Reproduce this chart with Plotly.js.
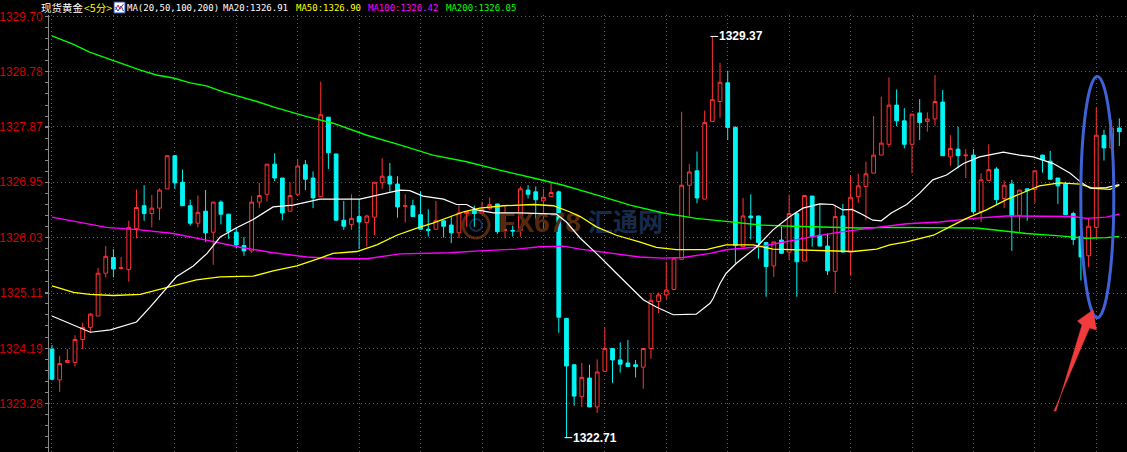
<!DOCTYPE html>
<html>
<head>
<meta charset="utf-8">
<script src="https://cdn.plot.ly/plotly-3.0.1.min.js"></script>
<style>
  html, body { margin: 0; padding: 0; background: #000; }
  #chart { width: 1127px; height: 452px; }
</style>
</head>
<body>
<div id="chart"></div>
<script>
// 现货黄金 5-minute bars (open / high / low / close)
const open = [
  1324.18,1323.67,1323.96,1323.96,1324.34,1324.54,1324.73,1325.44,1325.70,1325.52,
  1325.50,1326.18,1326.56,1326.43,1326.52,1326.84,1327.39,1326.95,1326.56,1326.27,
  1326.47,1326.12,1326.62,1326.42,1326.12,1325.90,1325.81,1326.62,1326.75,1327.25,
  1327.02,1326.47,1326.75,1327.24,1327.02,1326.71,1328.03,1327.42,1326.32,1326.25,
  1326.38,1326.28,1326.37,1326.94,1327.05,1326.92,1326.55,1326.56,1326.41,1326.17,
  1326.17,1326.31,1326.24,1326.11,1326.43,1326.48,1326.44,1326.51,1326.59,1326.15,
  1326.15,1326.15,1326.82,1326.79,1326.64,1326.71,1326.79,1324.69,1323.92,1323.39,
  1323.70,1323.22,1323.81,1324.19,1324.00,1323.95,1323.92,1323.88,1324.19,1324.97,
  1325.08,1325.17,1325.67,1326.90,1327.14,1326.67,1327.96,1328.29,1328.60,1327.86,
  1325.88,1326.39,1326.39,1325.95,1325.56,1325.99,1325.79,1326.43,1325.64,1326.72,
  1326.07,1325.89,1325.47,1326.39,1325.79,1326.71,1326.88,1327.10,1327.40,1327.58,
  1328.23,1327.97,1327.58,1328.10,1327.96,1328.00,1328.28,1327.37,1327.50,1327.39,
  1327.40,1326.46,1326.98,1327.17,1326.68,1326.92,1326.40,1326.84,1326.83,1327.40,
  1327.30,1327.02,1326.92,1326.43,1326.05,1325.73,1326.20,1327.73,1327.52,1327.85
];
const high = [
  1324.25,1324.07,1324.18,1324.41,1324.62,1324.78,1325.53,1325.89,1325.84,1325.71,
  1326.31,1326.83,1326.90,1326.74,1326.85,1327.40,1327.40,1327.16,1326.66,1326.73,
  1326.82,1326.62,1326.65,1326.42,1326.20,1326.04,1326.72,1326.94,1327.25,1327.43,
  1327.02,1326.95,1327.34,1327.32,1327.13,1328.62,1328.03,1327.42,1326.64,1326.75,
  1326.67,1326.41,1326.95,1327.35,1327.27,1327.05,1326.75,1326.66,1326.80,1326.50,
  1326.64,1326.32,1326.38,1326.57,1326.46,1326.56,1326.63,1326.70,1326.59,1326.57,
  1326.23,1326.88,1326.90,1326.88,1326.84,1326.94,1326.81,1324.69,1323.92,1323.95,
  1323.92,1324.01,1324.53,1324.19,1324.29,1324.33,1324.00,1324.19,1325.11,1325.12,
  1325.63,1325.69,1328.12,1327.25,1327.46,1328.14,1329.37,1328.93,1328.80,1327.88,
  1326.69,1326.75,1326.39,1325.95,1325.96,1326.21,1326.74,1326.46,1326.73,1326.72,
  1326.58,1326.10,1326.57,1326.59,1327.07,1327.09,1327.29,1328.05,1328.37,1328.69,
  1328.49,1328.18,1328.08,1328.33,1328.11,1328.73,1328.48,1327.73,1327.87,1327.50,
  1327.50,1327.10,1327.58,1327.20,1326.98,1326.99,1326.82,1326.84,1327.14,1327.41,
  1327.47,1327.02,1326.96,1326.46,1326.07,1326.35,1328.19,1327.82,1327.98,1328.01
];
const low = [
  1323.66,1323.47,1323.95,1323.89,1324.18,1324.45,1324.73,1325.37,1325.37,1325.50,
  1325.30,1326.02,1326.31,1326.20,1326.32,1326.84,1326.84,1326.56,1326.23,1326.20,
  1325.96,1325.58,1326.25,1326.01,1325.85,1325.73,1325.78,1326.52,1326.63,1326.97,
  1326.32,1326.47,1326.75,1326.82,1326.52,1326.71,1327.17,1326.32,1326.16,1326.16,
  1325.84,1325.88,1326.07,1326.84,1326.79,1326.36,1326.28,1326.38,1326.17,1326.05,
  1326.17,1326.03,1325.94,1326.02,1326.21,1326.21,1326.44,1326.49,1326.09,1326.02,
  1326.05,1326.05,1326.68,1326.33,1326.16,1326.71,1324.45,1322.71,1323.24,1323.22,
  1323.22,1323.12,1323.81,1323.62,1323.79,1323.89,1323.71,1323.52,1324.02,1324.78,
  1325.01,1325.17,1325.67,1326.38,1326.60,1326.67,1327.96,1328.02,1327.65,1325.60,
  1325.88,1326.00,1325.68,1325.05,1325.38,1325.77,1325.66,1325.05,1325.64,1325.88,
  1325.89,1325.41,1325.11,1325.79,1325.41,1326.61,1326.32,1327.10,1327.40,1327.53,
  1327.88,1327.51,1327.10,1327.65,1327.79,1327.89,1327.39,1327.22,1327.18,1327.02,
  1326.42,1326.29,1326.98,1326.57,1326.52,1325.81,1326.13,1326.31,1326.61,1327.11,
  1327.00,1326.59,1326.41,1325.91,1325.32,1325.54,1326.02,1327.31,1327.52,1327.55
];
const close = [
  1323.68,1323.94,1323.99,1324.34,1324.54,1324.76,1325.44,1325.72,1325.51,1325.53,
  1326.20,1326.53,1326.43,1326.52,1326.82,1327.39,1326.94,1326.56,1326.27,1326.45,
  1326.11,1326.62,1326.42,1326.13,1325.91,1325.81,1326.62,1326.73,1327.25,1327.02,
  1326.44,1326.73,1327.22,1327.00,1326.69,1328.07,1327.44,1326.32,1326.22,1326.35,
  1326.29,1326.39,1326.95,1327.05,1326.92,1326.54,1326.56,1326.38,1326.17,1326.15,
  1326.31,1326.22,1326.11,1326.44,1326.46,1326.43,1326.50,1326.58,1326.13,1326.16,
  1326.14,1326.84,1326.75,1326.66,1326.70,1326.78,1324.71,1323.90,1323.40,1323.71,
  1323.22,1323.80,1324.19,1324.00,1323.93,1323.89,1323.89,1324.19,1324.99,1325.08,
  1325.16,1325.69,1326.90,1327.12,1326.69,1327.94,1328.32,1328.61,1327.86,1325.90,
  1326.39,1326.36,1325.95,1325.55,1325.96,1325.77,1326.43,1325.63,1326.73,1326.05,
  1325.89,1325.48,1326.38,1325.79,1326.70,1326.89,1327.09,1327.40,1327.60,1328.23,
  1327.97,1327.58,1328.08,1327.94,1328.00,1328.29,1327.39,1327.51,1327.39,1327.40,
  1326.46,1326.99,1327.16,1326.66,1326.90,1326.39,1326.82,1326.81,1327.14,1327.32,
  1327.00,1326.89,1326.41,1326.00,1325.71,1326.22,1327.73,1327.52,1327.85,1327.79
];
const barIdx = open.map((_, i) => i);

// Moving averages as plotted (bar position, value)
const ma20X = [0,5.0,7.6,11.0,12.8,14.5,16.2,18.4,20.2,21.9,24.1,26.2,28.8,31.4,34.9,40.1,43.6,45.3,46.6,48.3,51.0,52.7,54.0,55.3,57.5,60.9,65.7,67.0,68.8,70.9,73.5,75.3,77.0,78.7,80.9,83.9,85.7,86.1,87.0,87.8,89.1,91.8,93.9,96.1,97.8,100.0,101.7,103.0,104.2,105.6,106.9,108.0,109.3,111.3,113.0,114.7,116.5,118.7,120.8,123.9,126.0,127.8,130.4,132.6,133.9,135.2,137.3,139.0];
const ma20  = [1324.73,1324.46,1324.50,1324.63,1324.88,1325.13,1325.38,1325.56,1325.77,1326.04,1326.20,1326.33,1326.54,1326.57,1326.67,1326.67,1326.77,1326.82,1326.81,1326.72,1326.67,1326.58,1326.58,1326.49,1326.44,1326.44,1326.42,1326.29,1326.02,1325.77,1325.44,1325.22,1325.00,1324.88,1324.75,1324.76,1324.94,1325.02,1325.27,1325.44,1325.60,1325.88,1326.16,1326.38,1326.52,1326.59,1326.58,1326.49,1326.50,1326.41,1326.32,1326.31,1326.44,1326.58,1326.77,1326.99,1327.07,1327.26,1327.37,1327.45,1327.40,1327.37,1327.26,1327.10,1326.96,1326.85,1326.86,1326.91];

const ma50X = [0,2.8,4.9,8.0,11.5,13.6,15.8,18.8,21.9,26.2,28.8,31.9,34.9,36.6,39.7,42.3,44.9,47.5,49.6,51.8,53.6,55.7,58.8,62.7,65.3,67.4,68.8,70.9,73.5,76.5,78.7,81.3,85.2,87.8,91.3,93.9,97.4,100.9,104.3,107.4,109.1,111.3,114.8,116.9,119.1,121.7,124.3,126.9,128.6,131.2,133.9,135.6,137.8,139.0];
const ma50  = [1325.23,1325.12,1325.09,1325.07,1325.09,1325.16,1325.24,1325.33,1325.38,1325.39,1325.48,1325.56,1325.69,1325.77,1325.80,1325.91,1326.07,1326.19,1326.27,1326.38,1326.46,1326.52,1326.56,1326.58,1326.56,1326.46,1326.38,1326.21,1326.07,1325.96,1325.87,1325.83,1325.83,1325.91,1325.91,1325.84,1325.83,1325.81,1325.80,1325.84,1325.91,1325.96,1326.07,1326.21,1326.35,1326.49,1326.66,1326.80,1326.89,1326.94,1326.92,1326.85,1326.83,1326.90];

const ma100X = [0,3.6,7.1,11.5,15.8,20.1,24.5,28.8,33.2,37.5,41.0,45.3,51.8,55.7,60.5,63.5,66.6,68.8,72.2,76.5,79.6,82.2,85.7,87.8,92.2,96.5,99.6,103.0,106.9,111.3,115.6,120.0,124.3,128.6,133.0,134.7,137.3,139.0];
const ma100  = [1326.37,1326.28,1326.20,1326.16,1326.10,1325.99,1325.87,1325.78,1325.71,1325.68,1325.68,1325.76,1325.78,1325.81,1325.84,1325.88,1325.89,1325.84,1325.78,1325.71,1325.69,1325.70,1325.77,1325.83,1325.88,1325.99,1326.06,1326.13,1326.19,1326.26,1326.29,1326.35,1326.39,1326.39,1326.38,1326.35,1326.37,1326.42];

const ma200X = [0,2.8,4.9,7.1,9.3,11.5,13.6,15.8,18.0,20.1,22.3,24.5,26.7,28.8,31.0,33.2,36.6,41.0,45.3,49.6,54.0,58.3,62.7,66.6,70.9,75.3,79.6,83.9,87.8,92.2,96.5,100.9,105.2,109.1,115.6,120.4,123.4,126.9,131.2,134.7,137.3,139.0];
const ma200  = [1329.38,1329.24,1329.11,1329.01,1328.91,1328.81,1328.73,1328.68,1328.60,1328.55,1328.45,1328.37,1328.29,1328.20,1328.12,1328.04,1327.93,1327.73,1327.57,1327.40,1327.29,1327.15,1327.02,1326.90,1326.74,1326.57,1326.44,1326.35,1326.30,1326.24,1326.22,1326.20,1326.19,1326.20,1326.20,1326.19,1326.15,1326.10,1326.06,1326.02,1326.03,1326.05];

// Price scale
const priceTicks = [1323.28,1324.19,1325.11,1326.03,1326.95,1327.87,1328.78,1329.70];
const priceTickText = ['1323.28','1324.19','1325.11','1326.03','1326.95','1327.87','1328.78','1329.70'];
const timeGrid = [0,8,16,24,32,40,48,56,64,72,80,88,96,104,112,120,128,136];

const UP = '#ff3232', DOWN = '#00f6f6';
const GRID = '#5e5e5e';
const SANS = 'Liberation Sans, Arial, sans-serif';
const MONO = 'DejaVu Sans Mono, Liberation Mono, monospace';
const CJK = 'Noto Sans CJK SC, sans-serif';

// plot box in page pixels, used for overlay placement
const L = 49, T = 15, W = 1127 - 49, H = 452 - 15;
const fx = p => (p - L) / W;
const fy = p => (T + H - p) / H;

const last = a => a[a.length - 1];

const traces = [
  // watermark sits beneath the bars
  { type: 'scatter', mode: 'text', x: [63.5], y: [1326.24], text: ['FX678'],
    textfont: { family: SANS, size: 28, color: '#55290e', weight: 'bold' },
    hoverinfo: 'skip', showlegend: false },
  { type: 'scatter', mode: 'text', x: [74.7], y: [1326.24], text: ['汇通网'],
    textfont: { family: CJK, size: 25, color: '#172a4c', weight: 'bold' },
    hoverinfo: 'skip', showlegend: false },
  {
    type: 'candlestick', x: barIdx, open: open, high: high, low: low, close: close,
    increasing: { line: { color: UP, width: 1 }, fillcolor: '#000000' },
    decreasing: { line: { color: DOWN, width: 1 }, fillcolor: DOWN },
    whiskerwidth: 0, hoverinfo: 'skip', showlegend: false
  },
  { type: 'scatter', mode: 'lines', x: ma200X, y: ma200, line: { color: '#00ff00', width: 1.4 }, hoverinfo: 'skip', showlegend: false },
  { type: 'scatter', mode: 'lines', x: ma100X, y: ma100, line: { color: '#ff00ff', width: 1.4 }, hoverinfo: 'skip', showlegend: false },
  { type: 'scatter', mode: 'lines', x: ma50X,  y: ma50,  line: { color: '#ffff00', width: 1.3 }, hoverinfo: 'skip', showlegend: false },
  { type: 'scatter', mode: 'lines', x: ma20X,  y: ma20,  line: { color: '#ffffff', width: 1.2 }, hoverinfo: 'skip', showlegend: false }
];

// extreme-price markers
const hiIdx = high.indexOf(Math.max(...high));
const loIdx = low.indexOf(Math.min(...low));

const headerItems = [
  { px: 40,  text: '现货黄金', color: '#ffffff', family: CJK, size: 10.5 },
  { px: 83,  text: '&lt;5分&gt;', color: '#ffff00', family: CJK, size: 10.5 },
  { px: 126, text: 'MA(20,50,100,200)', color: '#ffffff', family: MONO, size: 9 },
  { px: 222, text: 'MA20:' + last(ma20).toFixed(2), color: '#ffffff', family: MONO, size: 9 },
  { px: 295, text: 'MA50:' + last(ma50).toFixed(2), color: '#ffff00', family: MONO, size: 9 },
  { px: 367, text: 'MA100:' + last(ma100).toFixed(2), color: '#ff00ff', family: MONO, size: 9 },
  { px: 445, text: 'MA200:' + last(ma200).toFixed(2), color: '#00ff00', family: MONO, size: 9 }
];

const annotations = headerItems.map(h => ({
  xref: 'paper', yref: 'paper', x: fx(h.px), y: fy(8), xanchor: 'left', yanchor: 'middle',
  text: h.text, showarrow: false, font: { family: h.family, size: h.size, color: h.color }, borderpad: 0
}));

annotations.push(
  { xref: 'x', yref: 'y', x: hiIdx + 0.7, y: high[hiIdx], xanchor: 'left', yanchor: 'middle',
    text: high[hiIdx].toFixed(2), showarrow: false, borderpad: 0,
    font: { family: SANS, size: 12, color: '#ffffff', weight: 'bold' } },
  { xref: 'x', yref: 'y', x: loIdx + 0.7, y: low[loIdx], xanchor: 'left', yanchor: 'middle',
    text: low[loIdx].toFixed(2), showarrow: false, borderpad: 0,
    font: { family: SANS, size: 12, color: '#ffffff', weight: 'bold' } }
);

const shapes = [
  // ticks beside the extreme prices
  { type: 'line', xref: 'x', yref: 'y', x0: hiIdx - 0.25, x1: hiIdx + 0.75, y0: high[hiIdx], y1: high[hiIdx], line: { color: '#ffffff', width: 1 } },
  { type: 'line', xref: 'x', yref: 'y', x0: loIdx - 0.25, x1: loIdx + 0.75, y0: low[loIdx], y1: low[loIdx], line: { color: '#ffffff', width: 1 } },
  // watermark ring
  { type: 'circle', xref: 'paper', yref: 'paper', layer: 'below', x0: fx(463), x1: fx(489), y0: fy(238), y1: fy(212), line: { color: '#55290e', width: 3 } },
  { type: 'circle', xref: 'paper', yref: 'paper', layer: 'below', x0: fx(470), x1: fx(482), y0: fy(231), y1: fy(219), line: { color: '#172a4c', width: 2 } },
  // highlight ring around the latest bars
  { type: 'circle', xref: 'paper', yref: 'paper', x0: fx(1080.8), x1: fx(1113.8), y0: fy(317.8), y1: fy(76.5), line: { color: '#3f62d6', width: 3 } },
  // pointer
  { type: 'path', xref: 'paper', yref: 'paper', fillcolor: '#f03c3c', line: { color: '#f03c3c', width: 0.5 },
    path: 'M ' + [[1054, 411], [1089.5, 328], [1096.5, 330], [1093, 310], [1077.5, 321], [1082, 325], [1056, 411]]
      .map(p => fx(p[0]).toFixed(5) + ' ' + fy(p[1]).toFixed(5)).join(' L ') + ' Z' },
  // small indicator badge in the header
  { type: 'rect', xref: 'paper', yref: 'paper', x0: fx(114), x1: fx(125), y0: fy(13), y1: fy(2), fillcolor: '#ffffff', line: { color: '#2a48c8', width: 1 } },
  { type: 'path', xref: 'paper', yref: 'paper', line: { color: '#e02020', width: 1 },
    path: 'M ' + [[115.5, 10], [118, 5], [120, 9], [123.5, 4]].map(p => fx(p[0]).toFixed(5) + ' ' + fy(p[1]).toFixed(5)).join(' L ') },
  { type: 'path', xref: 'paper', yref: 'paper', line: { color: '#2040d0', width: 1 },
    path: 'M ' + [[115.5, 7], [118, 11], [121, 6], [123.5, 11]].map(p => fx(p[0]).toFixed(5) + ' ' + fy(p[1]).toFixed(5)).join(' L ') }
];

const layout = {
  width: 1127, height: 452,
  margin: { l: L, r: 0, t: T, b: 0, pad: 0 },
  paper_bgcolor: '#000000', plot_bgcolor: '#000000',
  showlegend: false,
  xaxis: {
    type: 'linear', range: [-0.39, 140.0],
    tickmode: 'array', tickvals: timeGrid, showticklabels: false, ticks: '',
    showgrid: true, gridcolor: GRID, griddash: '1px,3px', gridwidth: 1,
    zeroline: false, showline: false, rangeslider: { visible: false }, fixedrange: true
  },
  yaxis: {
    range: [1322.472, 1329.726],
    tickmode: 'array', tickvals: priceTicks, ticktext: priceTickText,
    tickfont: { family: SANS, size: 12, color: '#d80000' },
    showgrid: true, gridcolor: GRID, griddash: '1px,3px', gridwidth: 1,
    showline: true, linecolor: '#8a8a8a', linewidth: 1,
    ticks: 'outside', ticklen: 3, tickcolor: '#8a8a8a',
    minor: { ticks: 'outside', ticklen: 3, tickcolor: '#8a8a8a', tickmode: 'linear', tick0: 1323.28, dtick: 0.1834, showgrid: false },
    zeroline: false, fixedrange: true
  },
  annotations: annotations,
  shapes: shapes,
  hovermode: false
};

Plotly.newPlot('chart', traces, layout, { staticPlot: true, displayModeBar: false });
</script>
</body>
</html>
